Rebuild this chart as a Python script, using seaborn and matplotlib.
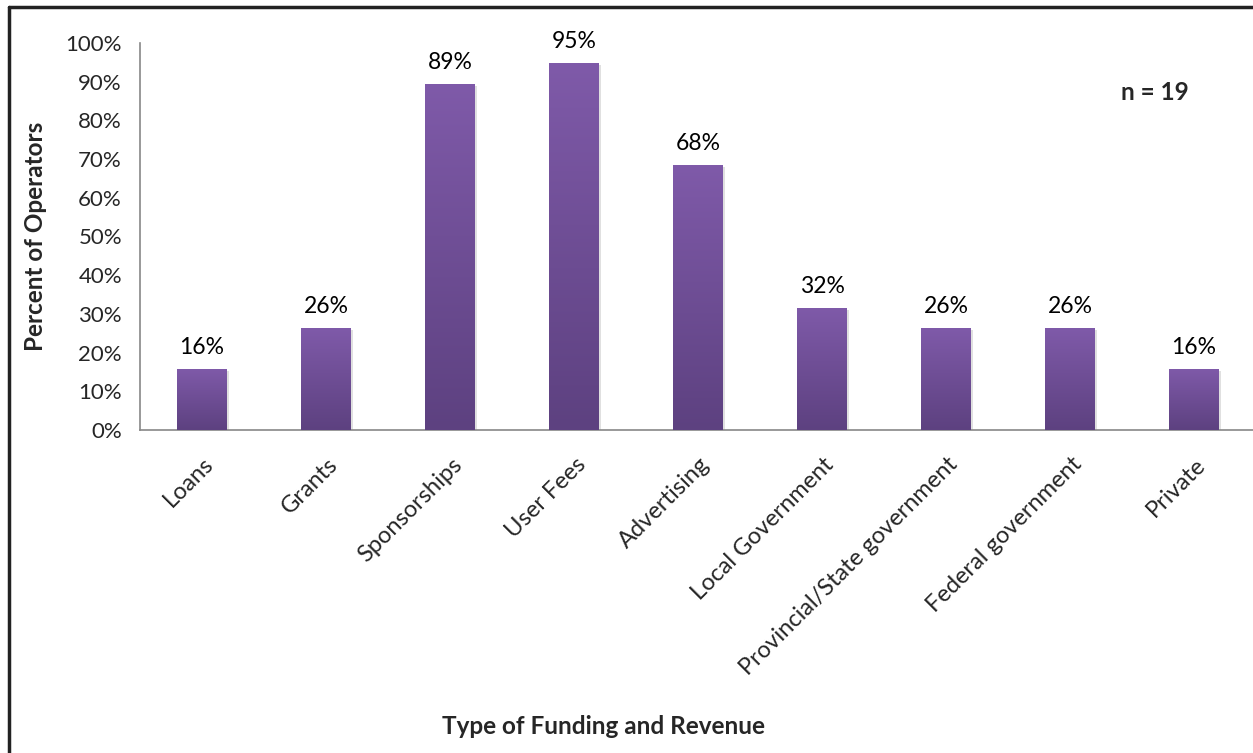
import numpy as np
import pandas as pd
import seaborn as sns
import matplotlib.pyplot as plt
from matplotlib.lines import Line2D
from matplotlib.colors import LinearSegmentedColormap
from matplotlib.transforms import ScaledTranslation
import matplotlib.patheffects as pe

categories = ["Loans", "Grants", "Sponsorships", "User Fees", "Advertising",
              "Local Government", "Provincial/State government",
              "Federal government", "Private"]
percents = [15.79, 26.32, 89.47, 94.74, 68.42, 31.58, 26.32, 26.32, 15.79]
y_ticks = [0, 10, 20, 30, 40, 50, 60, 70, 80, 90, 100]

df = pd.DataFrame({"type": categories, "pct": percents})

sns.set_style("white")
plt.rcParams['font.family'] = ['Lato', 'DejaVu Sans']

W, H = 1253, 753
fig = plt.figure(figsize=(W / 100, H / 100), dpi=100)
ax = fig.add_axes([140 / W, 323 / H, 1116 / W, 387 / H])

sns.barplot(data=df, x="type", y="pct", color="#6e4e96", width=0.4, ax=ax)

# gradient fill (top light, bottom dark) clipped to each bar
cmap = LinearSegmentedColormap.from_list("purp", ["#5d4180", "#7f5aa9"])
grad = np.linspace(0, 1, 256).reshape(-1, 1)
for p in ax.patches:
    x0, y0 = p.get_x(), p.get_y()
    w, h = p.get_width(), p.get_height()
    p.set_edgecolor("none")
    p.set_path_effects([pe.SimplePatchShadow(offset=(1.5, -1.5), alpha=0.3, shadow_rgbFace="#999999"), pe.Normal()])
    im = ax.imshow(grad, cmap=cmap, origin="lower", aspect="auto",
                   extent=[x0, x0 + w, y0, y0 + h], zorder=3)
    im.set_clip_path(p)

for i, v in enumerate(percents):
    ax.annotate(f"{v:.0f}%", (i, v), xytext=(0, 8), textcoords="offset points",
                ha="center", va="bottom", fontsize=16.5, color="black", zorder=4)

ax.set_xlim(-0.5, len(categories) - 0.5)
ax.set_ylim(0, 100)
ax.set_yticks(y_ticks)
ax.set_yticklabels([f"{t}%" for t in y_ticks], fontsize=16)
ax.set_xticks(range(len(categories)))
ax.set_xticklabels(categories, fontsize=17, rotation=45, ha="right", va="top",
                   rotation_mode="anchor")
ax.set_xticks(np.arange(-0.5, len(categories), 1), minor=True)
ax.tick_params(axis="x", which="major", length=0, pad=17)
ax.tick_params(axis="x", which="minor", length=7, width=1.2, color="#888888", direction="out")
ax.tick_params(axis="y", length=7, width=1.2, color="#888888", direction="out", pad=6)
shift = ScaledTranslation(1 / 100, 0, fig.dpi_scale_trans)
for lab in ax.get_xticklabels():
    lab.set_transform(lab.get_transform() + shift)

for s in ["top", "right"]:
    ax.spines[s].set_visible(False)
for s in ["left", "bottom"]:
    ax.spines[s].set_color("#888888")
    ax.spines[s].set_linewidth(1.2)
ax.set_xlabel("")
ax.set_ylabel("")

fig.text(604 / W, 1 - 726 / H, "Type of Funding and Revenue", ha="center", va="center",
         fontsize=17.5, fontweight="bold")
fig.text(36 / W, 1 - 236 / H, "Percent of Operators", ha="center", va="center",
         rotation=90, fontsize=17.5, fontweight="bold")
fig.text(1155 / W, 1 - 92 / H, "n = 19", ha="center", va="center",
         fontsize=17.5, fontweight="bold")

# outer chart border (left and top visible)
fig.add_artist(Line2D([9 / W, 9 / W], [0, 1 - 7 / H], color="#222222", lw=2.5))
fig.add_artist(Line2D([9 / W, 1], [1 - 7 / H, 1 - 7 / H], color="#222222", lw=2.5))

fig.savefig("out.png", dpi=100)
